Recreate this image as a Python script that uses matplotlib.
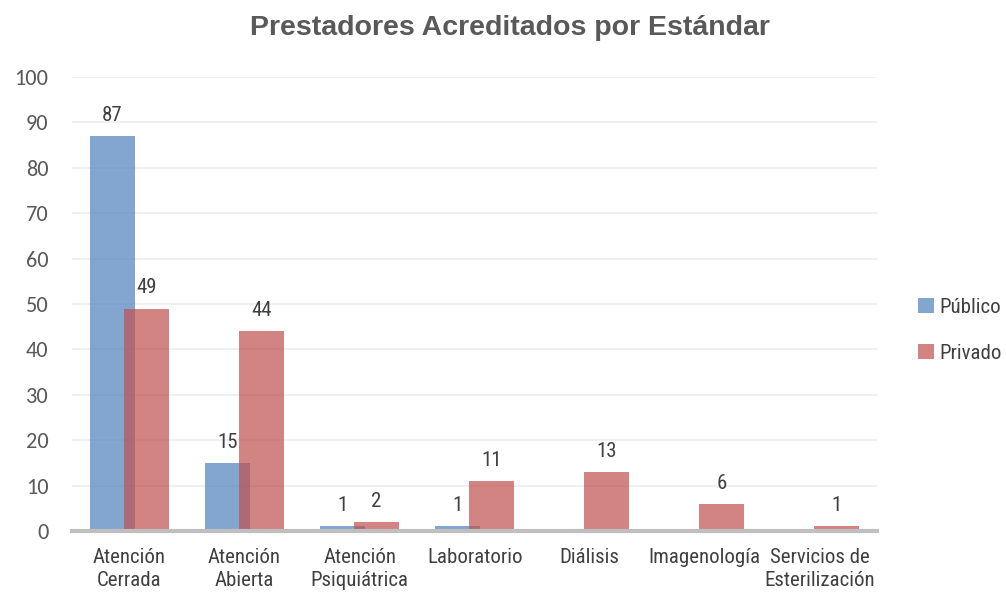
import numpy as np
import matplotlib.pyplot as plt

categories = ['Atención\nCerrada', 'Atención\nAbierta', 'Atención\nPsiquiátrica',
              'Laboratorio', 'Diálisis', 'Imagenología', 'Servicios de\nEsterilización']
publico = [87, 15, 1, 1, 0, 0, 0]
privado = [49, 44, 2, 11, 13, 6, 1]

narrow = ['Roboto Condensed', 'Archivo Narrow', 'DejaVu Sans']
plt.rcParams['font.family'] = narrow

fig = plt.figure(figsize=(10.06, 5.93), dpi=100)
ax = fig.add_axes([0.0716, 0.1046, 0.8004, 0.7655])

x = np.arange(len(categories))
w = 0.39
off = 0.148
b1 = ax.bar(x - off, publico, w, color='#4F81BD', alpha=0.7, label='Público', zorder=2)
b2 = ax.bar(x + off, privado, w, color='#C0504D', alpha=0.7, label='Privado', zorder=3)

for bars, vals in ((b1, publico), (b2, privado)):
    for b, v in zip(bars, vals):
        if v == 0:
            continue
        ax.annotate(str(v), (b.get_x() + b.get_width() / 2, v), xytext=(0, 8),
                    textcoords='offset points', ha='center', va='bottom',
                    fontsize=15, color='#404040')

ax.set_xlim(-0.5, 6.5)
ax.set_ylim(0, 100)
ax.set_yticks(range(0, 101, 10))
ax.set_xticks(x)
ax.set_xticklabels(categories, fontsize=15, color='#404040', linespacing=1.3)
ax.tick_params(axis='both', length=0)
ax.tick_params(axis='y', pad=17)
ax.tick_params(axis='x', pad=12)
for t in ax.get_yticklabels():
    t.set_family(['Carlito', 'Open Sans', 'DejaVu Sans'])
    t.set_fontsize(16)
    t.set_color('#595959')
ax.grid(axis='y', color='#EDEDED', linewidth=1.2, zorder=0)
ax.set_axisbelow(True)
for s in ['top', 'right', 'left']:
    ax.spines[s].set_visible(False)
ax.spines['bottom'].set_color('#BFBFBF')
ax.spines['bottom'].set_linewidth(3)
ax.spines['bottom'].set_zorder(4)

fig.text(0.507, 0.952, 'Prestadores Acreditados por Estándar', ha='center', va='center',
         fontsize=20.5, fontweight='bold', color='#595959',
         family=['Liberation Sans', 'DejaVu Sans'])

fig.legend(handles=[b1, b2], loc='center left', bbox_to_anchor=(0.913, 0.443),
           frameon=False, fontsize=15, handlelength=0.75, handleheight=0.75,
           handletextpad=0.25, labelspacing=1.3, borderpad=0, borderaxespad=0,
           labelcolor='#404040')

fig.savefig('out.png', dpi=100)
